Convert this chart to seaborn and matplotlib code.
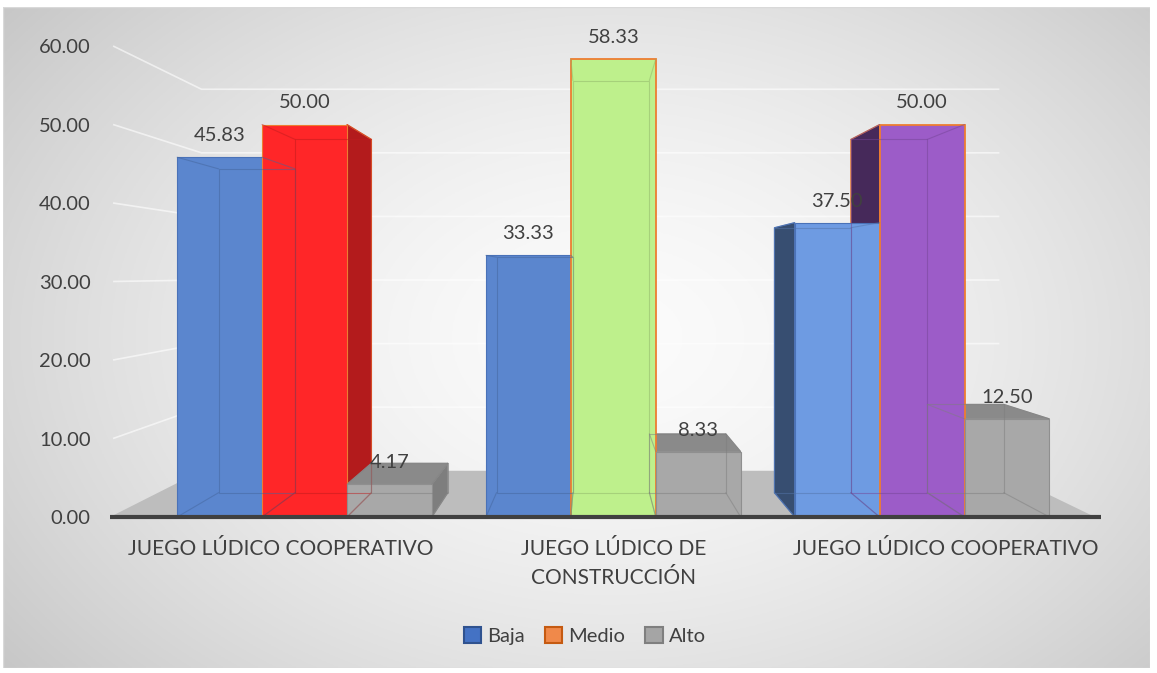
import numpy as np
import pandas as pd
import matplotlib
matplotlib.use("Agg")
import matplotlib.pyplot as plt
import matplotlib.transforms as mtransforms
import seaborn as sns
from matplotlib.patches import Polygon, Rectangle, Patch
from matplotlib.colors import to_rgb

# ---------------- data ----------------
categories = ["JUEGO LÚDICO COOPERATIVO", "JUEGO LÚDICO DE\nCONSTRUCCIÓN", "JUEGO LÚDICO COOPERATIVO"]
levels = ["Baja", "Medio", "Alto"]
baja = [45.83, 33.33, 37.50]
medio = [50.00, 58.33, 50.00]
alto = [4.17, 8.33, 12.50]
yticks = [0, 10, 20, 30, 40, 50, 60]
ytick_labels = ["0.00", "10.00", "20.00", "30.00", "40.00", "50.00", "60.00"]

group_ids = ["g0", "g1", "g2"]
df = pd.DataFrame({
    "grupo": group_ids * 3,
    "nivel": [levels[0]] * 3 + [levels[1]] * 3 + [levels[2]] * 3,
    "valor": baja + medio + alto,
})

# ---------------- styles ----------------
front_colors = [
    ["#5B86CE", "#FF2628", "#A8A8A8"],
    ["#5B86CE", "#BEF08C", "#A8A8A8"],
    ["#6E9BE2", "#9C5CC8", "#A8A8A8"],
]
side_factor = [
    [0.62, 0.70, 0.75],
    [0.62, 0.80, 0.75],
    [0.50, 0.45, 0.75],
]
edge_colors = [
    ["#4A72B8", "#ED7D31", "#8F8F8F"],
    ["#4A72B8", "#ED7D31", "#8F8F8F"],
    ["#4A72B8", "#ED7D31", "#8F8F8F"],
]
legend_face = ["#4472C4", "#F0894A", "#A5A5A5"]
legend_edge = ["#2F528F", "#C55A11", "#7F7F7F"]
text_col = "#404040"

FONT = ["Lato", "DejaVu Sans"]
sns.set_theme(style="white")
plt.rcParams["font.family"] = FONT

W, H = 1157, 673
fig = plt.figure(figsize=(W / 100, H / 100), dpi=100)
fig.patch.set_facecolor("white")

# ---------------- background gradient ----------------
bg = fig.add_axes([3 / W, 1 - 668 / H, 1147 / W, 661 / H])
bg.set_axis_off()
yy, xx = np.mgrid[0:1:300j, 0:1:500j]
r = np.sqrt(((xx - 0.53) / 0.62) ** 2 + ((yy - 0.5) / 0.75) ** 2)
vals = np.clip(0.985 - 0.18 * r ** 1.6, 0.76, 1.0)
bg.imshow(np.dstack([vals] * 3), extent=[0, 1, 0, 1], aspect="auto", zorder=0)
bg.add_patch(Rectangle((0, 0), 1, 1, transform=bg.transAxes, fill=False,
                       edgecolor="#D9D9D9", lw=1.0))

# ---------------- main axes ----------------
ax = fig.add_axes([110 / W, 1 - 517 / H, 985 / W, 471 / H])
ax.set_facecolor("none")
sns.barplot(data=df, x="grupo", y="valor", hue="nivel", order=group_ids,
            hue_order=levels, width=0.825, legend=False, ax=ax,
            errorbar=None, saturation=1)

XL, XR = -0.63, 2.56
ax.set_xlim(XL, XR)
ax.set_ylim(0, 60)

# perspective parameters (display-linear, so data coords are fine)
VX, VY = 0.93, 31.0      # vanishing point in data coords
F_WALL = 0.19            # depth of back wall
F_BAR = 0.10             # depth of bars


def back(pt, f):
    return (pt[0] + f * (VX - pt[0]), pt[1] + f * (VY - pt[1]))


# floor
floor_pts = [(XL, 0), (XR, 0), back((XR, 0), F_WALL), back((XL, 0), F_WALL)]
ax.add_patch(Polygon(floor_pts, closed=True, facecolor="#BDBDBD",
                     edgecolor="none", zorder=0.5, clip_on=False))

# gridlines: side wall + back wall
for v in yticks[1:]:
    p0 = (XL + 0.01, v)
    pb = back((XL, v), F_WALL)
    pr = back((XR, v), F_WALL)
    ax.plot([p0[0], pb[0], pr[0]], [p0[1], pb[1], pr[1]], color="white",
            alpha=0.6, lw=1.2, zorder=0.6, solid_capstyle="butt", clip_on=False)


def darker(c, k):
    r_, g_, b_ = to_rgb(c)
    return (r_ * k, g_ * k, b_ * k)


# bars: recolor, add depth faces
for li, cont in enumerate(ax.containers):
    for gi, bar in enumerate(cont.patches):
        fc = front_colors[gi][li]
        ec = edge_colors[gi][li]
        bar.set_facecolor(fc)
        bar.set_alpha(None)
        bar.set_edgecolor(ec)
        bar.set_linewidth(1.3 if li == 1 and gi > 0 else 0.8)
        bar.set_zorder(3)
        x0 = bar.get_x()
        x1 = x0 + bar.get_width()
        h = bar.get_height()
        F = [(x0, 0), (x1, 0), (x1, h), (x0, h)]
        B = [back(p, F_BAR) for p in F]
        side_c = darker(fc, side_factor[gi][li])
        top_c = darker(fc, 0.82)
        if x1 < VX:
            ax.add_patch(Polygon([F[1], F[2], B[2], B[1]], closed=True,
                                 facecolor=side_c, edgecolor=ec, lw=0.8, zorder=2))
        if x0 > VX:
            ax.add_patch(Polygon([F[0], F[3], B[3], B[0]], closed=True,
                                 facecolor=side_c, edgecolor=ec, lw=0.8, zorder=2))
        if h < VY:
            ax.add_patch(Polygon([F[3], F[2], B[2], B[3]], closed=True,
                                 facecolor=top_c, edgecolor=ec, lw=0.8, zorder=2))
        # inner (see-through) edges
        ax.add_patch(Polygon(B, closed=True, fill=False, edgecolor=darker(fc, 0.75),
                             lw=0.8, alpha=0.5, zorder=3.5))
        for a, b in zip(F, B):
            ax.plot([a[0], b[0]], [a[1], b[1]], color=darker(fc, 0.75),
                    lw=0.8, alpha=0.5, zorder=3.5)
        ax.annotate(f"{h:.2f}", xy=(x0 + bar.get_width() / 2, h),
                    xytext=(0, 15.5), textcoords="offset points",
                    ha="center", va="center", fontsize=14.5, color=text_col,
                    zorder=6)

# axis line
ax.plot([XL, XR + 0.02], [0, 0], color="#404040", lw=3, zorder=5,
        clip_on=False, solid_capstyle="butt")

for s in ax.spines.values():
    s.set_visible(False)
ax.set_yticks(yticks)
ax.set_yticklabels(ytick_labels, fontsize=14.5, color=text_col)
ax.tick_params(axis="y", length=0, pad=14)
ax.set_xticks(range(len(categories)))
ax.set_xticklabels(categories, fontsize=15, color=text_col, linespacing=1.55)
ax.tick_params(axis="x", length=0, pad=16)
# perspective spread of the category labels
for i, lab in enumerate(ax.get_xticklabels()):
    off = mtransforms.ScaledTranslation((i - 1) * 0.24, 0, fig.dpi_scale_trans)
    lab.set_transform(lab.get_transform() + off)
ax.set_xlabel("")
ax.set_ylabel("")
ax.grid(False)

# legend
handles = [Patch(facecolor=legend_face[i], edgecolor=legend_edge[i], lw=1.5,
                 label=levels[i]) for i in range(3)]
fig.legend(handles=handles, loc="center", bbox_to_anchor=(585 / W, 1 - 636 / H),
           ncol=3, frameon=False, fontsize=14.5, handlelength=0.85,
           handleheight=0.85, handletextpad=0.3, columnspacing=1.0,
           labelcolor=text_col)

fig.savefig("out.png", dpi=100)
